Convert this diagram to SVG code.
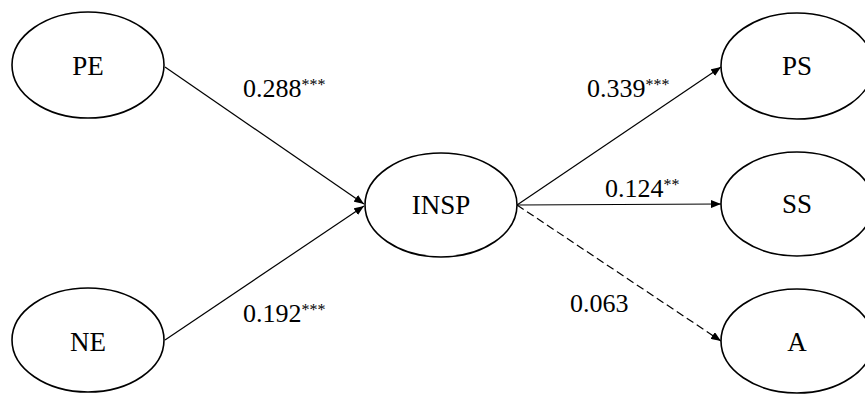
<svg xmlns="http://www.w3.org/2000/svg" width="865" height="394" viewBox="0 0 865 394">
<style>
.node ellipse{fill:#fff;stroke:#000;stroke-width:1.6}
.node text{font-family:"Liberation Serif","Times New Roman",serif;font-size:27px;text-anchor:middle;fill:#000}
.edge{stroke:#000;stroke-width:1.2;fill:none;marker-end:url(#ah)}
.dash{stroke-dasharray:8 4}
.lbl{font-family:"Liberation Serif","Times New Roman",serif;font-size:26px;fill:#000}
.sup{font-size:16px}
</style>
<defs>
<marker id="ah" viewBox="0 0 10 8" refX="10" refY="4" markerWidth="10" markerHeight="8" markerUnits="userSpaceOnUse" orient="auto">
<path d="M0,0 L10,4 L0,8 Z" fill="#000"/>
</marker>
</defs>
<rect width="865" height="394" fill="#fff"/>
<g id="connectors">
<line class="edge" x1="165" y1="67" x2="364" y2="204"/>
<line class="edge" x1="165" y1="340" x2="364" y2="206"/>
<line class="edge" x1="517" y1="205" x2="721" y2="67"/>
<line class="edge" x1="517" y1="205" x2="721" y2="204"/>
<line class="edge dash" x1="517" y1="205" x2="721" y2="341"/>
</g>
<g id="labels">
<text class="lbl" x="243" y="97">0.288<tspan class="sup" dy="-7">***</tspan></text>
<text class="lbl" x="243" y="322">0.192<tspan class="sup" dy="-7">***</tspan></text>
<text class="lbl" x="587" y="97">0.339<tspan class="sup" dy="-7">***</tspan></text>
<text class="lbl" x="605" y="197">0.124<tspan class="sup" dy="-7">**</tspan></text>
<text class="lbl" x="570" y="312">0.063</text>
</g>
<g id="PE" class="node"><ellipse cx="88" cy="65" rx="76" ry="53"/><text x="88" y="75">PE</text></g>
<g id="NE" class="node"><ellipse cx="88" cy="340" rx="76" ry="52"/><text x="88" y="351">NE</text></g>
<g id="INSP" class="node"><ellipse cx="441" cy="205" rx="76" ry="52"/><text x="441" y="214">INSP</text></g>
<g id="PS" class="node"><ellipse cx="797" cy="66" rx="76" ry="53"/><text x="797" y="75">PS</text></g>
<g id="SS" class="node"><ellipse cx="797" cy="204" rx="76" ry="52"/><text x="797" y="213">SS</text></g>
<g id="A" class="node"><ellipse cx="797" cy="341" rx="76" ry="52"/><text x="797" y="351">A</text></g>
</svg>
